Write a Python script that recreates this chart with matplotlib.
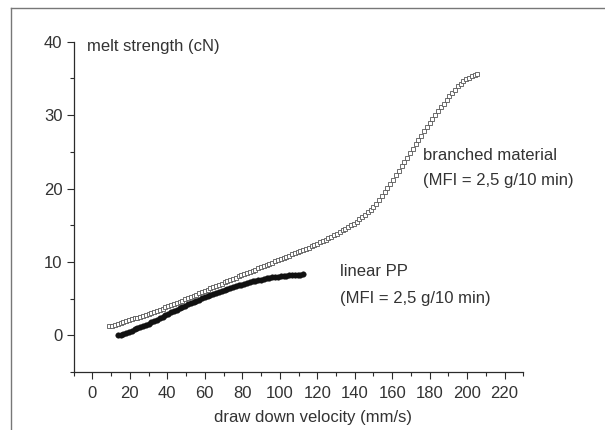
import matplotlib
matplotlib.use("Agg")
import matplotlib.pyplot as plt
from matplotlib.lines import Line2D
from matplotlib.ticker import MultipleLocator

plt.rcParams['font.family'] = ['Liberation Sans', 'DejaVu Sans']

# branched material (open squares)
branched_v = [
    9.0, 10.5, 12.0, 13.5, 15.0, 16.5, 18.0, 19.5, 21.0, 22.5,
    24.0, 25.5, 27.0, 28.5, 30.0, 31.5, 33.0, 34.5, 36.0, 37.5,
    39.0, 40.5, 42.0, 43.5, 45.0, 46.5, 48.0, 49.5, 51.0, 52.5,
    54.0, 55.5, 57.0, 58.5, 60.0, 61.5, 63.0, 64.5, 66.0, 67.5,
    69.0, 70.5, 72.0, 73.5, 75.0, 76.5, 78.0, 79.5, 81.0, 82.5,
    84.0, 85.5, 87.0, 88.5, 90.0, 91.5, 93.0, 94.5, 96.0, 97.5,
    99.0, 100.5, 102.0, 103.5, 105.0, 106.5, 108.0, 109.5, 111.0, 112.5,
    114.0, 115.5, 117.0, 118.5, 120.0, 121.5, 123.0, 124.5, 126.0, 127.5,
    129.0, 130.5, 132.0, 133.5, 135.0, 136.5, 138.0, 139.5, 141.0, 142.5,
    144.0, 145.5, 147.0, 148.5, 150.0, 151.5, 153.0, 154.5, 156.0, 157.5,
    159.0, 160.5, 162.0, 163.5, 165.0, 166.5, 168.0, 169.5, 171.0, 172.5,
    174.0, 175.5, 177.0, 178.5, 180.0, 181.5, 183.0, 184.5, 186.0, 187.5,
    189.0, 190.5, 192.0, 193.5, 195.0, 196.5, 198.0, 199.5, 201.0, 202.5,
    204.0, 205.5]
branched_ms = [
    1.20, 1.32, 1.45, 1.57, 1.70, 1.82, 1.94, 2.06, 2.18, 2.30,
    2.42, 2.54, 2.68, 2.81, 2.95, 3.08, 3.22, 3.35, 3.50, 3.65,
    3.80, 3.95, 4.10, 4.25, 4.40, 4.56, 4.73, 4.89, 5.06, 5.22,
    5.39, 5.55, 5.72, 5.88, 6.05, 6.22, 6.38, 6.55, 6.71, 6.88,
    7.04, 7.20, 7.37, 7.53, 7.70, 7.86, 8.02, 8.17, 8.33, 8.49,
    8.65, 8.80, 8.96, 9.12, 9.28, 9.43, 9.59, 9.75, 9.90, 10.06,
    10.22, 10.38, 10.53, 10.69, 10.85, 11.01, 11.17, 11.33, 11.49, 11.64,
    11.80, 11.96, 12.14, 12.32, 12.50, 12.68, 12.86, 13.04, 13.24, 13.45,
    13.65, 13.86, 14.07, 14.28, 14.50, 14.74, 14.98, 15.22, 15.50, 15.78,
    16.08, 16.40, 16.76, 17.12, 17.50, 17.95, 18.43, 18.93, 19.46, 20.03,
    20.61, 21.20, 21.80, 22.40, 23.00, 23.60, 24.20, 24.80, 25.40, 26.00,
    26.60, 27.19, 27.77, 28.34, 28.90, 29.45, 29.99, 30.52, 31.04, 31.55,
    32.05, 32.54, 33.01, 33.46, 33.90, 34.28, 34.60, 34.87, 35.12, 35.33,
    35.48, 35.58]

# linear PP (filled dots)
linear_v = [
    13.5, 15.0, 16.5, 18.0, 19.5, 21.0, 22.5, 24.0, 25.5, 27.0,
    28.5, 30.0, 31.5, 33.0, 34.5, 36.0, 37.5, 39.0, 40.5, 42.0,
    43.5, 45.0, 46.5, 48.0, 49.5, 51.0, 52.5, 54.0, 55.5, 57.0,
    58.5, 60.0, 61.5, 63.0, 64.5, 66.0, 67.5, 69.0, 70.5, 72.0,
    73.5, 75.0, 76.5, 78.0, 79.5, 81.0, 82.5, 84.0, 85.5, 87.0,
    88.5, 90.0, 91.5, 93.0, 94.5, 96.0, 97.5, 99.0, 100.5, 102.0,
    103.5, 105.0, 106.5, 108.0, 109.5, 111.0, 112.5]
linear_ms = [
    0.00, 0.10, 0.22, 0.34, 0.45, 0.62, 0.79, 0.96, 1.11, 1.27,
    1.43, 1.60, 1.78, 1.96, 2.14, 2.34, 2.55, 2.76, 2.96, 3.14,
    3.32, 3.50, 3.68, 3.86, 4.05, 4.20, 4.35, 4.50, 4.66, 4.84,
    5.02, 5.20, 5.35, 5.50, 5.65, 5.79, 5.93, 6.06, 6.19, 6.31,
    6.43, 6.55, 6.67, 6.79, 6.91, 7.02, 7.13, 7.24, 7.33, 7.42,
    7.51, 7.60, 7.68, 7.76, 7.83, 7.90, 7.96, 8.01, 8.06, 8.10,
    8.13, 8.15, 8.18, 8.21, 8.24, 8.27, 8.30]

txt = '#333333'
axc = '#2b2b2b'

fig = plt.figure(figsize=(6.05, 4.30), dpi=100)
ax = fig.add_axes([0.1218, 0.1349, 0.865 - 0.1218, 0.903 - 0.1349])

ax.plot(linear_v, linear_ms, 'o', ms=4.0, color='#111111', mec='#111111', mew=0.3)
ax.plot(branched_v, branched_ms, 's', ms=3.0, mfc='white', mec='#555555', mew=0.6)

ax.set_xlim(-10, 230)
ax.set_ylim(-5, 40)
ax.xaxis.set_minor_locator(MultipleLocator(10))
ax.yaxis.set_minor_locator(MultipleLocator(5))
ax.set_xticks(range(0, 221, 20))
ax.set_yticks(range(0, 41, 10))

for s in ['top', 'right']:
    ax.spines[s].set_visible(False)
for s in ['left', 'bottom']:
    ax.spines[s].set_linewidth(0.9)
    ax.spines[s].set_color(axc)

ax.tick_params(which='major', direction='out', length=5, width=0.8, color=axc,
               labelsize=12, labelcolor=txt)
ax.tick_params(which='minor', direction='out', length=3, width=0.8, color=axc)
ax.tick_params(axis='x', which='major', pad=5)
ax.tick_params(axis='y', which='major', pad=3)

ax.set_xlabel('draw down velocity (mm/s)', fontsize=12, color=txt)
ax.xaxis.set_label_coords(0.533, -0.138)
ax.xaxis.label.set_verticalalignment('center')

ax.text(-2.7, 39.3, 'melt strength (cN)', fontsize=12, color=txt, va='center', ha='left')
ax.text(176.7, 24.56, 'branched material', fontsize=12, color=txt, va='center', ha='left')
ax.text(176.7, 21.05, '(MFI = 2,5 g/10 min)', fontsize=12, color=txt, va='center', ha='left')
ax.text(131.9, 8.64, 'linear PP', fontsize=12, color=txt, va='center', ha='left')
ax.text(131.9, 5.0, '(MFI = 2,5 g/10 min)', fontsize=12, color=txt, va='center', ha='left')

# outer frame lines (top and left) of the scanned figure
ytop = 1 - 7.5 / 430
xleft = 11.5 / 605
fig.add_artist(Line2D([xleft, 1], [ytop, ytop], transform=fig.transFigure, color='#777777', lw=1.0))
fig.add_artist(Line2D([xleft, xleft], [0, ytop], transform=fig.transFigure, color='#777777', lw=1.0))

fig.savefig('out.png', dpi=100)
